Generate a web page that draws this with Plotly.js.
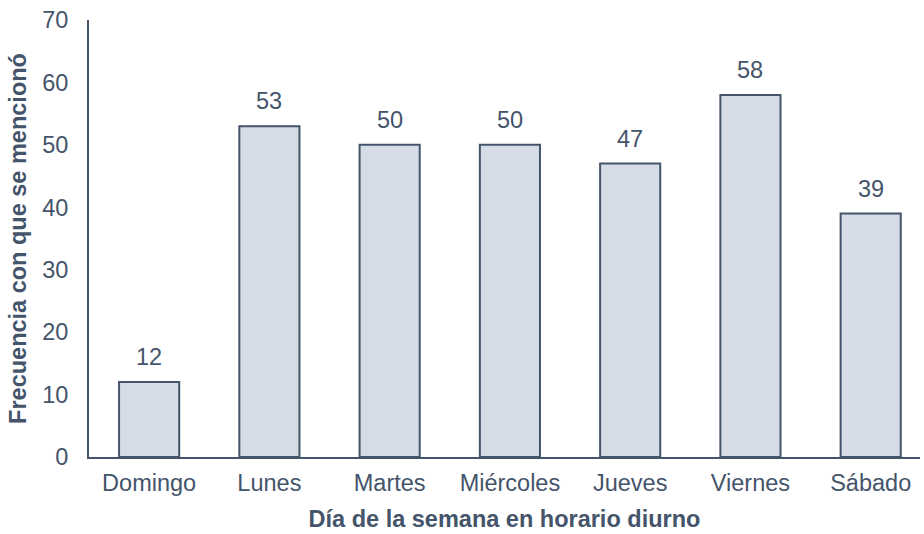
<!DOCTYPE html>
<html>
<head>
<meta charset="utf-8">
<script src="https://cdn.plot.ly/plotly-3.0.1.min.js"></script>
<style>html,body{margin:0;padding:0;background:#fff;}#chart{width:924px;height:534px;}</style>
</head>
<body>
<div id="chart"></div>
<script>
var categories = ["Domingo", "Lunes", "Martes", "Miércoles", "Jueves", "Viernes", "Sábado"];
var values = [12, 53, 50, 50, 47, 58, 39];
var yTicks = [0, 10, 20, 30, 40, 50, 60, 70];

var font = "Arial, 'Liberation Sans', sans-serif";
var dark = "#44546a";
var fs = 23.5;

var trace = {
  type: "bar",
  x: categories,
  y: values,
  width: 0.5,
  marker: {color: "#d6dce5", line: {color: dark, width: 2}},
  hoverinfo: "x+y"
};

var annotations = categories.map(function (c, i) {
  return {
    x: c, y: values[i], xref: "x", yref: "y",
    text: String(values[i]), showarrow: false,
    yanchor: "bottom", yshift: 10,
    font: {family: font, size: fs, color: dark}
  };
});

var layout = {
  width: 924, height: 534,
  margin: {l: 89, r: 4, t: 20, b: 77},
  paper_bgcolor: "#fff", plot_bgcolor: "#fff",
  showlegend: false,
  annotations: annotations,
  xaxis: {
    type: "category",
    range: [-0.5, 6.41],
    showline: true, linecolor: dark, linewidth: 2,
    showgrid: false, zeroline: false,
    ticks: "", ticklabelstandoff: 4,
    tickfont: {family: font, size: fs, color: dark},
    title: {text: "<b>Día de la semana en horario diurno</b>", font: {family: font, size: fs, color: dark}, standoff: 15}
  },
  yaxis: {
    range: [0, 70],
    tickvals: yTicks,
    ticktext: yTicks.map(String),
    showline: true, linecolor: dark, linewidth: 2,
    showgrid: false, zeroline: false,
    ticks: "", ticklabelstandoff: 14,
    tickfont: {family: font, size: fs, color: dark},
    title: {text: "<b>Frecuencia con que se mencionó</b>", font: {family: font, size: fs, color: dark}, standoff: 9}
  }
};

Plotly.newPlot("chart", [trace], layout, {displayModeBar: false, staticPlot: true});
</script>
</body>
</html>
